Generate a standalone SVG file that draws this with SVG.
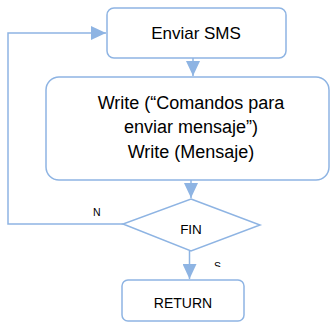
<svg xmlns="http://www.w3.org/2000/svg" width="331" height="322" viewBox="0 0 331 322">
  <style>
    .box { fill: #ffffff; stroke: #8EB4E3; stroke-width: 1.5; }
    .line { fill: none; stroke: #8EB4E3; stroke-width: 1.5; }
    .txt { font-family: "Liberation Sans", Arial, sans-serif; fill: #000000; text-anchor: middle; }
    .lbl { font-family: "Liberation Sans", Arial, sans-serif; fill: #000000; font-size: 10.5px; }
  </style>
  <defs>
    <marker id="arrow" markerUnits="userSpaceOnUse" markerWidth="16" markerHeight="14" refX="15" refY="7" orient="auto">
      <path d="M0,0 L15,7 L0,14 Z" fill="#8EB4E3"/>
    </marker>
    <clipPath id="clipS">
      <rect x="200" y="250" width="40" height="17"/>
    </clipPath>
  </defs>
  <rect width="331" height="322" fill="#ffffff"/>

  <g id="connectors">
    <!-- Loop back from decision (N) to Enviar SMS -->
    <polyline class="line" points="123,224 8,224 8,33 106,33" marker-end="url(#arrow)"/>
    <!-- Enviar SMS to Write block -->
    <line class="line" x1="193" y1="58" x2="193" y2="76" marker-end="url(#arrow)"/>
    <!-- Write block to decision -->
    <line class="line" x1="191" y1="180" x2="191" y2="198" marker-end="url(#arrow)"/>
    <!-- Decision (S) to RETURN -->
    <line class="line" x1="189.5" y1="251" x2="189.5" y2="279" marker-end="url(#arrow)"/>
    <text class="lbl" x="93" y="216">N</text>
    <text class="lbl" x="214" y="270" clip-path="url(#clipS)">S</text>
  </g>

  <g id="enviar-sms">
    <rect class="box" x="107" y="8" width="179" height="50" rx="7"/>
    <text class="txt" x="196" y="39" font-size="17">Enviar SMS</text>
  </g>

  <g id="write-block">
    <rect class="box" x="46" y="77" width="283" height="103" rx="13"/>
    <text class="txt" x="191" y="108.5" font-size="18">Write (“Comandos para</text>
    <text class="txt" x="191" y="133" font-size="18">enviar mensaje”)</text>
    <text class="txt" x="191" y="157.5" font-size="18">Write (Mensaje)</text>
  </g>

  <g id="fin">
    <polygon class="box" points="191,199 260,225 191,251 123,224"/>
    <text class="txt" x="191" y="234" font-size="13.5">FIN</text>
  </g>

  <g id="return">
    <rect class="box" x="122" y="280" width="122" height="41" rx="6"/>
    <text class="txt" x="183" y="308" font-size="14">RETURN</text>
  </g>
</svg>
